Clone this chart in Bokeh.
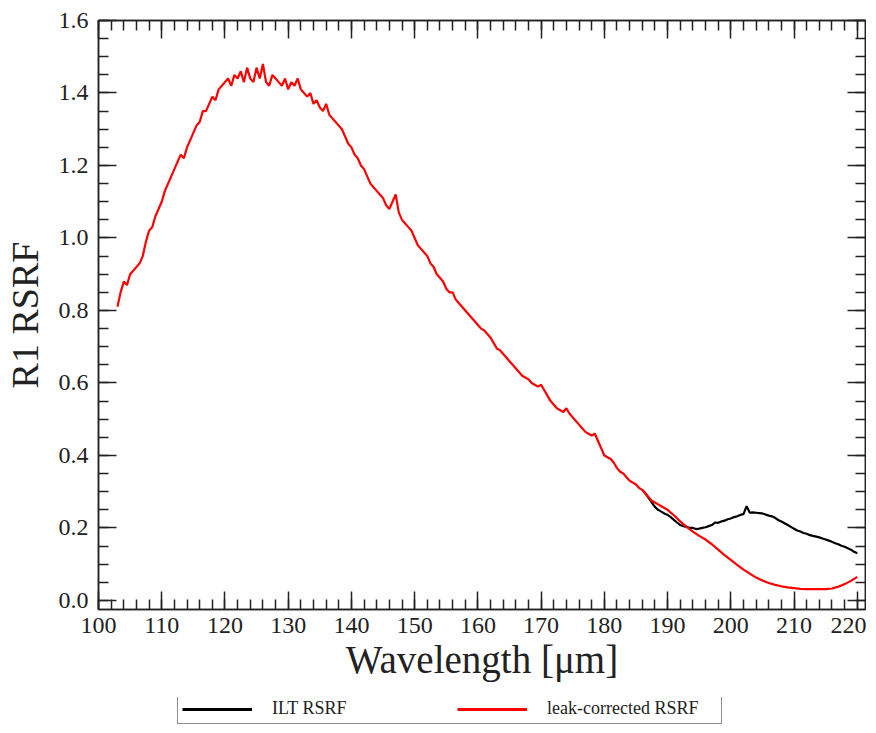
import numpy as np
from bokeh.plotting import figure
from bokeh.layouts import column
from bokeh.models import (LinearAxis, Legend, LegendItem, Range1d, FixedTicker,
                          PrintfTickFormatter, CustomJSTickFormatter)
from bokeh.embed import file_html
from bokeh.resources import INLINE

# leak-corrected RSRF (red), 0.5 um steps 103-190, then 1 um steps 191-220
red_wl_a = np.arange(103.0, 190.01, 0.5)
red_val_a = [
    0.81, 0.85, 0.88, 0.87, 0.90, 0.91, 0.92, 0.93, 0.95, 0.99,
    1.02, 1.03, 1.06, 1.08, 1.10, 1.13, 1.15, 1.17, 1.19, 1.21,
    1.23, 1.22, 1.25, 1.27, 1.29, 1.31, 1.32, 1.35, 1.35, 1.37,
    1.39, 1.38, 1.41, 1.42, 1.43, 1.44, 1.42, 1.45, 1.44, 1.46,
    1.43, 1.47, 1.44, 1.43, 1.47, 1.44, 1.48, 1.43, 1.42, 1.45,
    1.44, 1.43, 1.42, 1.44, 1.41, 1.43, 1.42, 1.44, 1.41, 1.40,
    1.39, 1.40, 1.37, 1.38, 1.36, 1.35, 1.37, 1.34, 1.33, 1.32,
    1.31, 1.30, 1.28, 1.26, 1.25, 1.23, 1.22, 1.20, 1.19, 1.17,
    1.15, 1.14, 1.13, 1.12, 1.11, 1.09, 1.08, 1.10, 1.12, 1.07,
    1.05, 1.04, 1.03, 1.02, 1.00, 0.98, 0.97, 0.96, 0.95, 0.93,
    0.92, 0.90, 0.89, 0.88, 0.86, 0.85, 0.85, 0.83, 0.82, 0.81,
    0.80, 0.79, 0.78, 0.77, 0.76, 0.75, 0.745, 0.735, 0.725, 0.71,
    0.695, 0.69, 0.68, 0.67, 0.66, 0.65, 0.64, 0.63, 0.62, 0.615,
    0.61, 0.60, 0.595, 0.59, 0.595, 0.58, 0.565, 0.55, 0.54, 0.53,
    0.525, 0.52, 0.53, 0.515, 0.505, 0.495, 0.485, 0.475, 0.465, 0.46,
    0.455, 0.46, 0.44, 0.42, 0.40, 0.395, 0.39, 0.38, 0.365, 0.355,
    0.35, 0.34, 0.33, 0.325, 0.32, 0.31, 0.305, 0.295, 0.285, 0.275,
    0.27, 0.265, 0.26, 0.255, 0.25,
]
red_wl_b = np.arange(191.0, 220.01, 1.0)
red_val_b = [
    0.235, 0.218, 0.203, 0.19, 0.178, 0.168, 0.155, 0.14, 0.125, 0.112,
    0.098, 0.085, 0.074, 0.063, 0.055, 0.048, 0.043, 0.039, 0.036, 0.034,
    0.032, 0.031, 0.031, 0.031, 0.031, 0.033, 0.038, 0.045, 0.054, 0.065,
]

# ILT RSRF (black), where it departs from the corrected curve
ilt_wl = np.arange(186.0, 220.01, 0.5)
ilt_val = [
    0.305, 0.295, 0.283, 0.27, 0.258, 0.25, 0.245, 0.24, 0.236, 0.23,
    0.222, 0.215, 0.208, 0.205, 0.203, 0.20, 0.20, 0.197, 0.198, 0.20,
    0.202, 0.205, 0.208, 0.215, 0.214, 0.218, 0.22, 0.224, 0.226, 0.23,
    0.232, 0.236, 0.238, 0.26, 0.242, 0.243, 0.242, 0.241, 0.24, 0.237,
    0.234, 0.232, 0.228, 0.222, 0.218, 0.213, 0.208, 0.203, 0.198, 0.193,
    0.19, 0.186, 0.184, 0.18, 0.178, 0.176, 0.174, 0.171, 0.168, 0.165,
    0.162, 0.158, 0.155, 0.151, 0.148, 0.144, 0.14, 0.134, 0.13,
]

x_ticks = [100, 110, 120, 130, 140, 150, 160, 170, 180, 190, 200, 210, 220]
y_ticks = [0.0, 0.2, 0.4, 0.6, 0.8, 1.0, 1.2, 1.4, 1.6]
series_names = ["ILT RSRF", "leak-corrected RSRF"]

red_wl = list(red_wl_a) + list(red_wl_b)
red_val = red_val_a + red_val_b

FONT = "Liberation Serif"
TXT = "#222222"

p = figure(width=866, height=697, output_backend="svg", toolbar_location=None,
           x_range=Range1d(100, 221.3), y_range=Range1d(-0.025, 1.6),
           x_axis_label="Wavelength [μm]", y_axis_label="R1 RSRF",
           min_border_left=91, min_border_right=1, min_border_top=20,
           min_border_bottom=88)
p.grid.visible = False
p.outline_line_color = "#222222"
p.outline_line_width = 1.5

p.line(ilt_wl, ilt_val, line_color="black", line_width=2.2)
p.line(red_wl, red_val, line_color="red", line_width=2.2)

def style_axis(ax, ticks, minor, show_labels):
    ax.ticker = FixedTicker(ticks=ticks, minor_ticks=minor)
    ax.major_tick_in = 18
    ax.major_tick_out = 0
    ax.minor_tick_in = 10
    ax.minor_tick_out = 0
    ax.axis_line_color = "#222222"
    ax.axis_line_width = 1.5
    ax.major_tick_line_color = "#222222"
    ax.major_tick_line_width = 1.5
    ax.minor_tick_line_color = "#222222"
    ax.minor_tick_line_width = 1.5
    ax.major_label_text_font = FONT
    ax.major_label_text_font_size = "24px"
    ax.major_label_text_color = TXT
    ax.axis_label_text_font = FONT
    ax.axis_label_text_font_style = "normal"
    ax.axis_label_text_color = TXT
    if not show_labels:
        ax.formatter = CustomJSTickFormatter(code="return ''")
        ax.major_label_text_font_size = "1px"
        ax.major_label_standoff = 0
        ax.axis_label_standoff = 0

x_minor = [100 + 2 * i for i in range(62)]
y_minor = [round(-0.05 + 0.05 * i, 2) for i in range(35)]

style_axis(p.xaxis[0], x_ticks, x_minor, True)
p.xaxis[0].major_label_standoff = 8
p.xaxis[0].axis_label_text_font_size = "39px"
p.xaxis[0].axis_label_standoff = 2
style_axis(p.yaxis[0], y_ticks, y_minor, True)
p.yaxis[0].formatter = PrintfTickFormatter(format="%.1f")
p.yaxis[0].major_label_standoff = 10
p.yaxis[0].axis_label_text_font_size = "38px"
p.yaxis[0].axis_label_standoff = 10

top = LinearAxis()
style_axis(top, x_ticks, x_minor, False)
p.add_layout(top, "above")
right = LinearAxis()
style_axis(right, y_ticks, y_minor, False)
p.add_layout(right, "right")

# legend strip under the plot (swatch lines sit outside the visible range)
lg = figure(width=866, height=27, output_backend="svg", toolbar_location=None,
            x_range=Range1d(0, 1), y_range=Range1d(0, 1),
            min_border_left=0, min_border_right=0, min_border_top=0,
            min_border_bottom=0, x_axis_type=None, y_axis_type=None)
lg.grid.visible = False
lg.outline_line_color = None
lb = lg.line([-3, -2], [-3, -2], line_color="black", line_width=3)
lr = lg.line([-3, -2], [-3, -2], line_color="red", line_width=3)
legend = Legend(items=[LegendItem(label=series_names[0], renderers=[lb]),
                       LegendItem(label=series_names[1], renderers=[lr])],
                orientation="horizontal", location=(79, 0),
                label_text_font=FONT, label_text_font_size="18px",
                label_text_color=TXT, glyph_width=70, glyph_height=10,
                label_height=10, label_standoff=20, label_width=170,
                spacing=15, padding=4, margin=0,
                border_line_color="#222222", border_line_width=1.5,
                background_fill_alpha=1.0)
lg.add_layout(legend, "center")

open("out.html", "w").write(file_html(column(p, lg, spacing=0), INLINE))
